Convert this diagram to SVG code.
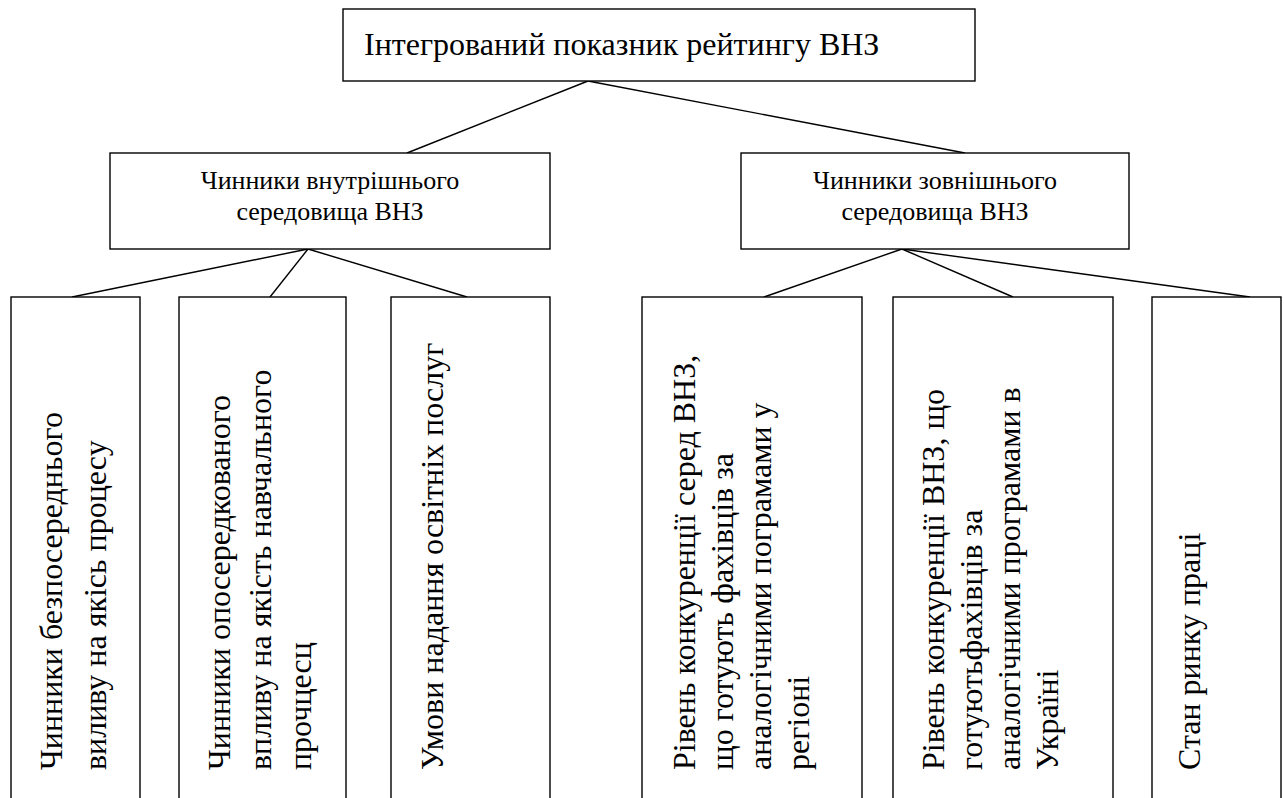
<svg xmlns="http://www.w3.org/2000/svg" width="1284" height="798" viewBox="0 0 1284 798" font-family="Liberation Serif, DejaVu Serif, Times New Roman, serif">
<style>
.box{fill:#fff;stroke:#000;stroke-width:1.4}
.ln{stroke:#000;stroke-width:1.4;fill:none}
text{font-family:"Liberation Serif","DejaVu Serif","Times New Roman",serif;fill:#000}
.top{font-size:32px}
.mid{font-size:26px;text-anchor:middle}
.v{font-size:32px}
</style>
<rect width="1284" height="798" fill="#fff"/>
<g id="connectors">
<line class="ln" x1="588" y1="81" x2="407" y2="153"/>
<line class="ln" x1="588" y1="81" x2="965" y2="153"/>
<line class="ln" x1="308" y1="249" x2="72" y2="297"/>
<line class="ln" x1="308" y1="249" x2="270" y2="297"/>
<line class="ln" x1="308" y1="249" x2="467" y2="297"/>
<line class="ln" x1="902" y1="249" x2="764" y2="297"/>
<line class="ln" x1="902" y1="249" x2="1013" y2="297"/>
<line class="ln" x1="902" y1="249" x2="1250" y2="297"/>
</g>
<g id="root">
<rect class="box" x="343" y="9" width="632" height="72"/>
<text class="top" x="364" y="55">Інтегрований показник рейтингу ВНЗ</text>
</g>
<g id="internal">
<rect class="box" x="110" y="153" width="440" height="96"/>
<text class="mid" x="330" y="189">Чинники внутрішнього</text>
<text class="mid" x="330" y="220">середовища ВНЗ</text>
</g>
<g id="external">
<rect class="box" x="741" y="153" width="388" height="96"/>
<text class="mid" x="935" y="189">Чинники зовнішнього</text>
<text class="mid" x="935" y="220">середовища ВНЗ</text>
</g>
<g id="b1">
<rect class="box" x="11" y="297" width="129" height="520"/>
<text class="v" transform="translate(62,770) rotate(-90)">Чинники безпосереднього</text>
<text class="v" transform="translate(106,770) rotate(-90)">виливу на якісь процесу</text>
</g>
<g id="b2">
<rect class="box" x="179" y="297" width="167" height="520"/>
<text class="v" transform="translate(230,770) rotate(-90)">Чинники опосередкованого</text>
<text class="v" transform="translate(271,770) rotate(-90)">впливу на якість навчального</text>
<text class="v" transform="translate(311,770) rotate(-90)">прочцесц</text>
</g>
<g id="b3">
<rect class="box" x="391" y="297" width="159" height="520"/>
<text class="v" transform="translate(443,770) rotate(-90)">Умови надання освітніх послуг</text>
</g>
<g id="b4">
<rect class="box" x="642" y="297" width="220" height="520"/>
<text class="v" transform="translate(695,770) rotate(-90)">Рівень конкуренції серед ВНЗ,</text>
<text class="v" transform="translate(733,770) rotate(-90)">що готують фахівців за</text>
<text class="v" transform="translate(771,770) rotate(-90)">аналогічними пограмами у</text>
<text class="v" transform="translate(809,770) rotate(-90)">регіоні</text>
</g>
<g id="b5">
<rect class="box" x="893" y="297" width="220" height="520"/>
<text class="v" transform="translate(944,770) rotate(-90)">Рівень конкуренції ВНЗ, що</text>
<text class="v" transform="translate(982,770) rotate(-90)">готуютьфахівців за</text>
<text class="v" transform="translate(1020,770) rotate(-90)">аналогічними програмами в</text>
<text class="v" transform="translate(1058,770) rotate(-90)">Україні</text>
</g>
<g id="b6">
<rect class="box" x="1152" y="297" width="129" height="520"/>
<text class="v" transform="translate(1200,770) rotate(-90)">Стан ринку праці</text>
</g>
</svg>
